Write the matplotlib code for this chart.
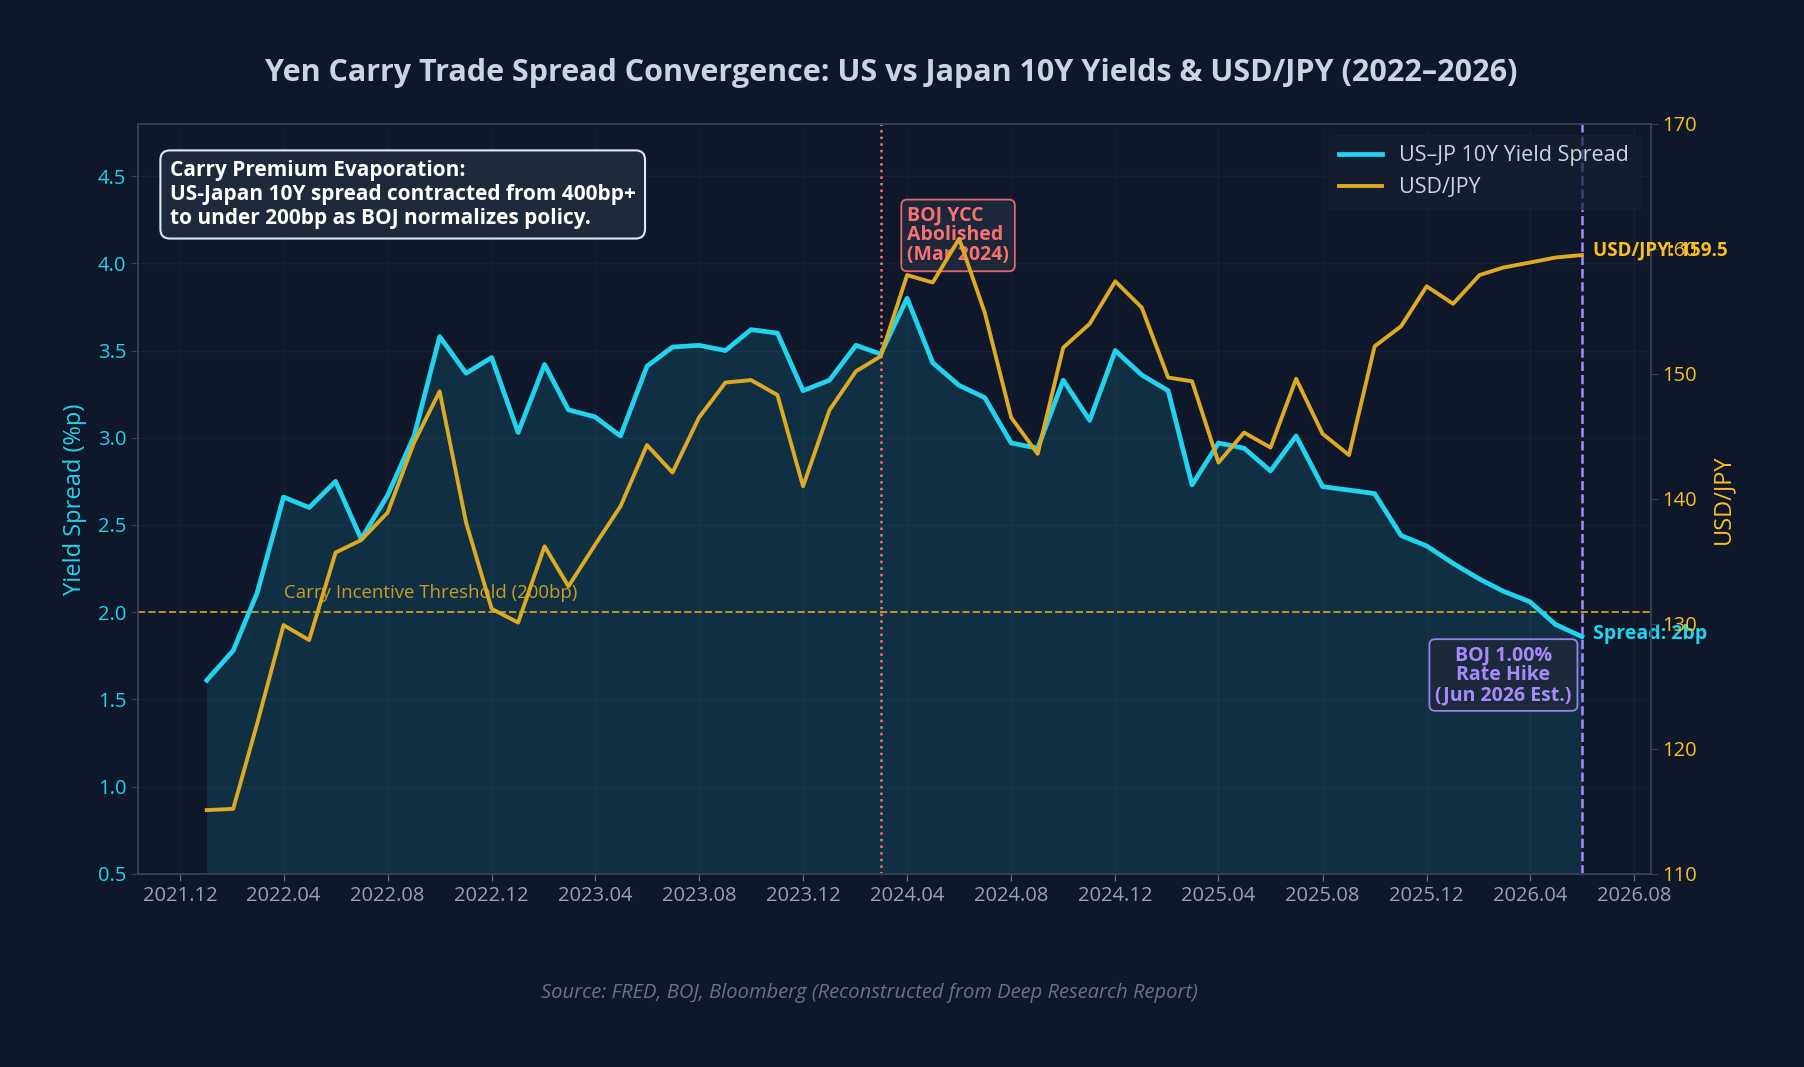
import matplotlib.pyplot as plt
import matplotlib.dates as mdates
import pandas as pd

plt.rcParams['font.family'] = ['Open Sans', 'DejaVu Sans']

# monthly, Jan 2022 .. Jun 2026
dates = pd.date_range('2022-01-01', periods=54, freq='MS')
spread = [1.61, 1.78, 2.11, 2.66, 2.60, 2.75, 2.42, 2.67, 3.01, 3.58,
          3.37, 3.46, 3.03, 3.42, 3.16, 3.12, 3.01, 3.41, 3.52, 3.53,
          3.50, 3.62, 3.60, 3.27, 3.33, 3.53, 3.48, 3.80, 3.43, 3.30,
          3.23, 2.97, 2.94, 3.33, 3.10, 3.50, 3.36, 3.27, 2.73, 2.97,
          2.94, 2.81, 3.01, 2.72, 2.70, 2.68, 2.44, 2.38, 2.28, 2.19,
          2.12, 2.06, 1.93, 1.86]
usdjpy = [115.1, 115.2, 122.0, 129.9, 128.7, 135.7, 136.7, 138.9, 144.5, 148.6,
          138.1, 131.2, 130.1, 136.2, 133.0, 136.3, 139.4, 144.3, 142.1, 146.5,
          149.3, 149.5, 148.3, 141.0, 147.1, 150.2, 151.4, 157.9, 157.3, 160.8,
          154.9, 146.5, 143.6, 152.1, 154.0, 157.4, 155.3, 149.7, 149.4, 142.9,
          145.3, 144.1, 149.6, 145.2, 143.5, 152.2, 153.8, 157.0, 155.6, 157.9,
          158.5, 158.9, 159.3, 159.5]

ycc_date = pd.Timestamp('2024-03-01')
hike_date = pd.Timestamp('2026-06-01')

bg = '#0f172a'
cyan = '#22d3ee'
gold = '#dcaa24'
gold_txt = '#fbbf24'
red = '#f87171'
purple = '#a78bfa'
grid = '#161f31'
spine = '#334155'

fig = plt.figure(figsize=(18.04, 10.67), dpi=100, facecolor=bg)
ax = fig.add_axes([0.0765, 0.181, 0.8385, 0.703])
ax.set_facecolor(bg)

ax.plot(dates, spread, color=cyan, lw=3.4, label='US–JP 10Y Yield Spread', zorder=3)
ax.fill_between(dates, spread, 0.5, color=cyan, alpha=0.13, lw=0, zorder=1)
ax.set_ylim(0.5, 4.8)
ax.set_yticks([0.5, 1.0, 1.5, 2.0, 2.5, 3.0, 3.5, 4.0, 4.5])

ax.axhline(2.0, color=gold, ls='--', lw=1.4, alpha=0.85, zorder=2)
ax.text(pd.Timestamp('2022-04-01'), 2.11, 'Carry Incentive Threshold (200bp)',
        color=gold, fontsize=13.4, alpha=0.9, va='center')
ax.axvline(ycc_date, color=red, ls=':', lw=1.8, zorder=2)
ax.axvline(hike_date, color=purple, ls='--', lw=1.8, zorder=2)

ax.text(pd.Timestamp('2024-04-01'), 4.16, 'BOJ YCC\nAbolished\n(Mar 2024)', color=red,
        fontsize=14, fontweight='bold', va='center', ha='left', linespacing=1.0,
        bbox=dict(boxstyle='round,pad=0.3', fc='#1e293b', ec=red, lw=1.3, alpha=0.9))
ax.text(pd.Timestamp('2026-03-01'), 1.64, 'BOJ 1.00%\nRate Hike\n(Jun 2026 Est.)', color=purple,
        fontsize=14, fontweight='bold', va='center', ha='center', linespacing=1.0,
        bbox=dict(boxstyle='round,pad=0.3', fc='#1e293b', ec=purple, lw=1.3, alpha=0.9))

ax.text(0.021, 0.952, 'Carry Premium Evaporation:\nUS-Japan 10Y spread contracted from 400bp+\n'
        'to under 200bp as BOJ normalizes policy.', transform=ax.transAxes,
        color='white', fontsize=15, fontweight='bold', va='top', ha='left', linespacing=1.2,
        bbox=dict(boxstyle='round,pad=0.45', fc='#1e293b', ec='#e2e8f0', lw=1.5))

ax.annotate('Spread: 2bp', (dates[-1], spread[-1]), xytext=(8, 2), textcoords='offset points',
            color=cyan, fontsize=14, fontweight='bold', va='center', ha='left')

ax.xaxis.set_major_locator(mdates.MonthLocator(bymonth=[4, 8, 12]))
ax.xaxis.set_major_formatter(mdates.DateFormatter('%Y.%m'))
ax.grid(True, color=grid, lw=1.0)
ax.set_axisbelow(True)
ax.tick_params(axis='x', colors='#94a3b8', labelsize=14.5, length=5, color='#64748b')
ax.tick_params(axis='y', colors=spine, labelcolor=cyan, labelsize=14.5, length=5)
ax.set_ylabel('Yield Spread (%p)', color=cyan, fontsize=17, labelpad=8)

ax2 = ax.twinx()
ax2.plot(dates, usdjpy, color=gold, lw=2.8, label='USD/JPY', zorder=3)
ax2.set_ylim(110, 170)
ax2.set_yticks([110, 120, 130, 140, 150, 160, 170])
ax2.tick_params(axis='y', colors=spine, labelcolor=gold_txt, labelsize=14.5, length=5)
ax2.set_ylabel('USD/JPY', color=gold_txt, fontsize=17, labelpad=10)
ax2.annotate(f'USD/JPY: {usdjpy[-1]}', (dates[-1], usdjpy[-1]), xytext=(8, 3),
             textcoords='offset points', color=gold_txt, fontsize=13.5, fontweight='bold',
             va='center', ha='left')

for a in (ax, ax2):
    for s in a.spines.values():
        s.set_color(spine)
        s.set_linewidth(1.2)

h1, l1 = ax.get_legend_handles_labels()
h2, l2 = ax2.get_legend_handles_labels()
leg = ax2.legend(h1 + h2, l1 + l2, loc='upper right', fontsize=15.5, facecolor='#162032',
                 edgecolor='#162032', framealpha=0.7, labelcolor='#cbd5e1',
                 handlelength=2.0, borderpad=0.5)

fig.text(0.494, 0.932, 'Yen Carry Trade Spread Convergence: US vs Japan 10Y Yields & USD/JPY (2022–2026)',
         color='#cbd5e1', fontsize=22, fontweight='bold', ha='center', va='center')
fig.text(0.482, 0.069, 'Source: FRED, BOJ, Bloomberg (Reconstructed from Deep Research Report)',
         color='#64748b', fontsize=14.5, style='italic', ha='center', va='center')

fig.savefig('out.png', dpi=100, facecolor=bg)
